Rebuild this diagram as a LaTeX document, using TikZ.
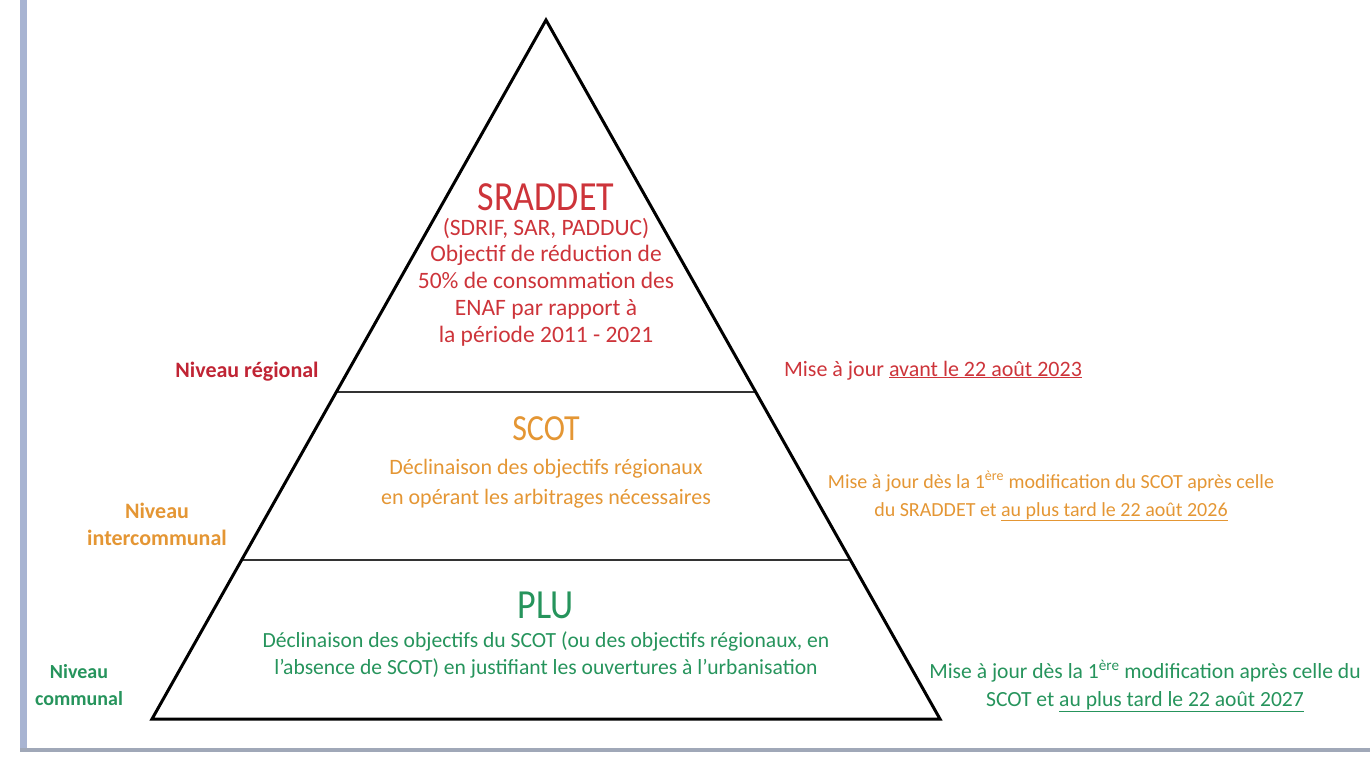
\documentclass[tikz,border=0pt]{standalone}
\usepackage{fontspec}
\usepackage{graphicx}
\setmainfont{Carlito}
\usetikzlibrary{calc}
\definecolor{cred}{RGB}{205,52,58}
\definecolor{cdred}{RGB}{192,36,52}
\definecolor{corange}{RGB}{228,150,52}
\definecolor{cgreen}{RGB}{38,148,92}
\definecolor{cframe}{RGB}{168,180,210}
\definecolor{cbottom}{RGB}{160,168,184}
\newcommand{\tallword}[1]{\scalebox{1}[1.15]{#1}}
\tikzset{
  x=1pt, y=-1pt,
  edge/.style={line width=3pt, black, line join=miter},
  tier/.style={line width=2.2pt, black!80},
  big/.style={anchor=base, inner sep=0pt, font=\fontsize{36}{40}\selectfont},
  body/.style={anchor=base, inner sep=0pt, font=\fontsize{22}{26}\selectfont},
  srbody/.style={anchor=base, inner sep=0pt, font=\fontsize{23.5}{27}\selectfont},
  side/.style={anchor=base, inner sep=0pt, font=\fontsize{22}{26}\selectfont},
  lvl/.style={anchor=base, inner sep=0pt, font=\bfseries\fontsize{22}{26}\selectfont},
}
\begin{document}
\begin{tikzpicture}
\useasboundingbox (0,0) rectangle (1370,756);
% frame
\fill[cframe] (20,0) rectangle (27,752);
\fill[cbottom] (20,748) rectangle (1370,752);
% pyramid
\coordinate (apex) at (546,20);
\coordinate (bl) at (152,719);
\coordinate (br) at (940,719);
\coordinate (l1) at ($(apex)!0.532!(bl)$);
\coordinate (r1) at ($(apex)!0.532!(br)$);
\coordinate (l2) at ($(apex)!0.7725!(bl)$);
\coordinate (r2) at ($(apex)!0.7725!(br)$);
\draw[tier] (l1) -- (r1);
\draw[tier] (l2) -- (r2);
\draw[edge] (apex) -- (bl) -- (br) -- cycle;
% SRADDET
\begin{scope}[text=cred]
\node[big] (sr) at (546,210) {\tallword{SRADDET}};
\node[srbody] (sr1) at (546,235) {(SDRIF, SAR, PADDUC)};
\node[srbody] (sr2) at (546,261) {Objectif de réduction de};
\node[srbody] (sr3) at (546,288) {50\% de consommation des};
\node[srbody] (sr4) at (546,315) {ENAF par rapport à};
\node[srbody] (sr5) at (546,342) {la période 2011 - 2021};
\node[side] (srm) at (933,376) {Mise à jour \underline{avant le 22 août 2023}};
\end{scope}
\node[lvl, text=cdred] (nreg) at (247,377) {Niveau régional};
% SCOT
\begin{scope}[text=corange]
\node[big, font=\fontsize{32}{36}\selectfont] (sc) at (546,440) {\tallword{SCOT}};
\node[body] (sc1) at (546,474) {Déclinaison des objectifs régionaux};
\node[body] (sc2) at (546,504) {en opérant les arbitrages nécessaires};
\node[side, font=\fontsize{20}{24}\selectfont] (scm1) at (1051,488) {Mise à jour dès la 1\textsuperscript{ère} modification du SCOT après celle};
\node[side, font=\fontsize{20}{24}\selectfont] (scm2) at (1051,516) {du SRADDET et \underline{au plus tard le 22 août 2026}};
\node[lvl] (nint1) at (157,518) {Niveau};
\node[lvl] (nint2) at (157,545) {intercommunal};
\end{scope}
% PLU
\begin{scope}[text=cgreen]
\node[big] (pl) at (546,618) {\tallword{PLU}};
\node[body, font=\fontsize{21.6}{26}\selectfont] (pl1) at (546,647) {Déclinaison des objectifs du SCOT (ou des objectifs régionaux, en};
\node[body, font=\fontsize{21.6}{26}\selectfont] (pl2) at (546,674) {l’absence de SCOT) en justifiant les ouvertures à l’urbanisation};
\node[side, font=\fontsize{21.6}{26}\selectfont] (plm1) at (1145,678) {Mise à jour dès la 1\textsuperscript{ère} modification après celle du};
\node[side, font=\fontsize{21.6}{26}\selectfont] (plm2) at (1145,706) {SCOT et \underline{au plus tard le 22 août 2027}};
\node[lvl, font=\bfseries\fontsize{20}{24}\selectfont] (ncom1) at (79,678) {Niveau};
\node[lvl, font=\bfseries\fontsize{20}{24}\selectfont] (ncom2) at (79,705) {communal};
\end{scope}
\end{tikzpicture}
\end{document}
